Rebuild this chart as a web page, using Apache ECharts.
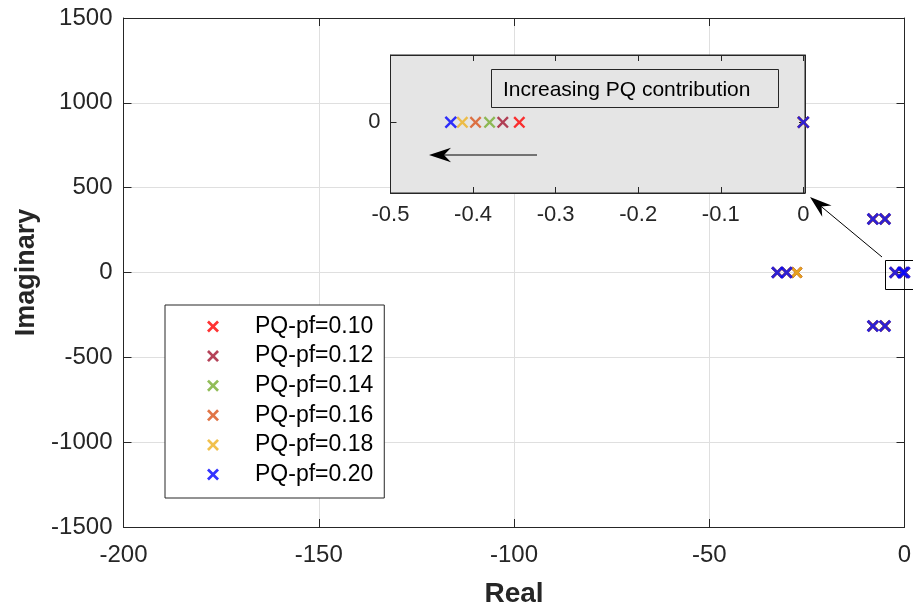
<!DOCTYPE html>
<html>
<head>
<meta charset="utf-8">
<script src="https://cdn.jsdelivr.net/npm/echarts@6/dist/echarts.min.js"></script>
<style>
html,body{margin:0;padding:0;background:#fff;}
#chart{width:913px;height:605px;}
</style>
</head>
<body>
<div id="chart"></div>
<script>
// ---------- data ----------
const seriesNames = ['PQ-pf=0.10', 'PQ-pf=0.12', 'PQ-pf=0.14', 'PQ-pf=0.16', 'PQ-pf=0.18', 'PQ-pf=0.20'];
// pole locations [real, imaginary]
const polesPf010 = [[-32.6, 0], [-30.2, 0], [-27.6, 0], [-8.1, 315], [-8.1, -315], [-5.0, 315], [-5.0, -315], [-2.43, 0], [-0.344, 0], [0, 0]];
const polesPf012 = [[-32.6, 0], [-30.2, 0], [-27.6, 0], [-8.1, 315], [-8.1, -315], [-5.0, 315], [-5.0, -315], [-2.43, 0], [-0.364, 0], [0, 0]];
const polesPf014 = [[-32.6, 0], [-30.2, 0], [-27.6, 0], [-8.1, 315], [-8.1, -315], [-5.0, 315], [-5.0, -315], [-2.43, 0], [-0.380, 0], [0, 0]];
const polesPf016 = [[-32.6, 0], [-30.2, 0], [-27.6, 0], [-8.1, 315], [-8.1, -315], [-5.0, 315], [-5.0, -315], [-2.43, 0], [-0.397, 0], [0, 0]];
const polesPf018 = [[-32.6, 0], [-30.2, 0], [-27.6, 0], [-8.1, 315], [-8.1, -315], [-5.0, 315], [-5.0, -315], [-2.43, 0], [-0.413, 0], [0, 0]];
const polesPf020 = [[-32.6, 0], [-30.2, 0], [-8.1, 315], [-8.1, -315], [-5.0, 315], [-5.0, -315], [-2.43, 0], [-0.427, 0], [0, 0]];
const seriesPoles = [polesPf010, polesPf012, polesPf014, polesPf016, polesPf018, polesPf020];

const mainXTicks = [-200, -150, -100, -50, 0];
const mainYTicks = [-1500, -1000, -500, 0, 500, 1000, 1500];
const insetXTicks = [-0.5, -0.4, -0.3, -0.2, -0.1, 0];
const insetYTicks = [0];

const annotationText = 'Increasing PQ contribution';
const xAxisTitle = 'Real';
const yAxisTitle = 'Imaginary';

// ---------- styles ----------
const colors = ['#ff0000', '#a2142f', '#77ac30', '#d95319', '#edb120', '#0000ff'];
const FONT = '"Liberation Sans", Arial, Helvetica, sans-serif';
const AX = '#262626';
const XMARK_BOLD = 'path://M0,1.6L1.6,0L5,3.4L8.4,0L10,1.6L6.6,5L10,8.4L8.4,10L5,6.6L1.6,10L0,8.4L3.4,5Z';
const XMARK = 'path://M0,1.4L1.4,0L5,3.6L8.6,0L10,1.4L6.4,5L10,8.6L8.6,10L5,6.4L1.4,10L0,8.6L3.6,5Z';

const main = {left: 123.5, right: 904.5, top: 18, bottom: 527};
const inset = {left: 390.5, right: 805, top: 55, bottom: 193};

const chart = echarts.init(document.getElementById('chart'), null, {renderer: 'canvas'});

function fmtTick(list, v) {
  for (const t of list) if (Math.abs(t - v) < 1e-9) return String(t);
  return '';
}

const series = [];
seriesNames.forEach((name, i) => {
  const last = i === seriesNames.length - 1;
  series.push({
    type: 'scatter', name: name, xAxisIndex: 0, yAxisIndex: 0,
    data: seriesPoles[i], symbol: XMARK_BOLD, symbolSize: last ? 12.5 : 11.5,
    itemStyle: {color: colors[i]}, z: 2, silent: true
  });
  series.push({
    type: 'scatter', name: name, xAxisIndex: 2, yAxisIndex: 2,
    data: seriesPoles[i], symbol: XMARK, symbolSize: last ? 12.5 : 12, clip: true,
    itemStyle: {color: colors[i]}, z: 8, silent: true
  });
});

// arrow helpers (annotation geometry)
function arrowHead(tx, ty, fx, fy, len, half, notch) {
  const dx = fx - tx, dy = fy - ty, L = Math.hypot(dx, dy);
  const ux = dx / L, uy = dy / L, px = -uy, py = ux;
  return [[tx, ty],
          [tx + ux * len + px * half, ty + uy * len + py * half],
          [tx + ux * notch, ty + uy * notch],
          [tx + ux * len - px * half, ty + uy * len - py * half]];
}
const arrow1 = {fx: 537, fy: 155, tx: 429, ty: 155};
const arrow2 = {fx: 882, fy: 257, tx: 810, ty: 197};

const option = {
  animation: false,
  backgroundColor: '#ffffff',
  textStyle: {fontFamily: FONT},
  grid: [
    {left: main.left, top: main.top, width: main.right - main.left, height: main.bottom - main.top,
     containLabel: false, outerBoundsMode: 'none', show: false},
    {left: inset.left, top: inset.top, width: inset.right - inset.left, height: inset.bottom - inset.top,
     containLabel: false, outerBoundsMode: 'none',
     show: true, backgroundColor: '#e5e5e5', borderColor: AX, borderWidth: 1, z: 5}
  ],
  xAxis: [
    {gridIndex: 0, type: 'value', min: -200, max: 0, interval: 50, position: 'bottom',
     name: xAxisTitle, nameLocation: 'middle', nameGap: 53,
     nameTextStyle: {fontSize: 28, fontWeight: 'bold', color: AX, fontFamily: FONT},
     axisLine: {show: true, onZero: false, lineStyle: {color: AX, width: 1}},
     axisTick: {show: true, inside: true, length: 8, lineStyle: {color: AX}},
     axisLabel: {fontSize: 24, color: AX, margin: 16, fontFamily: FONT, formatter: v => fmtTick(mainXTicks, v)},
     splitLine: {show: true, lineStyle: {color: '#dfdfdf', width: 1}}},
    {gridIndex: 0, type: 'value', min: -200, max: 0, interval: 50, position: 'top',
     axisLine: {show: true, onZero: false, lineStyle: {color: AX, width: 1}},
     axisTick: {show: true, inside: true, length: 8, lineStyle: {color: AX}},
     axisLabel: {show: false}, splitLine: {show: false}},
    {gridIndex: 1, type: 'value', min: -0.5, max: 0.002, interval: 0.1, position: 'bottom', z: 6,
     axisLine: {show: true, onZero: false, lineStyle: {color: AX, width: 1}},
     axisTick: {show: true, inside: true, length: 6, lineStyle: {color: AX}},
     axisLabel: {fontSize: 22, color: AX, margin: 11, fontFamily: FONT, showMaxLabel: false, formatter: v => fmtTick(insetXTicks, v)},
     splitLine: {show: false}},
    {gridIndex: 1, type: 'value', min: -0.5, max: 0.002, interval: 0.1, position: 'top', z: 6,
     axisLine: {show: true, onZero: false, lineStyle: {color: AX, width: 1}},
     axisTick: {show: true, inside: true, length: 6, lineStyle: {color: AX}},
     axisLabel: {show: false}, splitLine: {show: false}}
  ],
  yAxis: [
    {gridIndex: 0, type: 'value', min: -1500, max: 1500, interval: 500, position: 'left',
     name: yAxisTitle, nameLocation: 'middle', nameGap: 80, nameRotate: 90,
     nameTextStyle: {fontSize: 27, fontWeight: 'bold', color: AX, fontFamily: FONT},
     axisLine: {show: true, onZero: false, lineStyle: {color: AX, width: 1}},
     axisTick: {show: true, inside: true, length: 8, lineStyle: {color: AX}},
     axisLabel: {fontSize: 24, color: AX, margin: 11, fontFamily: FONT, formatter: v => fmtTick(mainYTicks, v)},
     splitLine: {show: true, lineStyle: {color: '#dfdfdf', width: 1}}},
    {gridIndex: 0, type: 'value', min: -1500, max: 1500, interval: 500, position: 'right',
     axisLine: {show: true, onZero: false, lineStyle: {color: AX, width: 1}},
     axisTick: {show: true, inside: true, length: 8, lineStyle: {color: AX}},
     axisLabel: {show: false}, splitLine: {show: false}},
    {gridIndex: 1, type: 'value', min: -1.05, max: 1, interval: 1.05, position: 'left', z: 6,
     axisLine: {show: true, onZero: false, lineStyle: {color: AX, width: 1}},
     axisTick: {show: true, inside: true, length: 6, lineStyle: {color: AX}},
     axisLabel: {fontSize: 22, color: AX, margin: 10, fontFamily: FONT, formatter: v => fmtTick(insetYTicks, v)},
     splitLine: {show: false}},
    {gridIndex: 1, type: 'value', min: -1.05, max: 1, interval: 1.05, position: 'right', z: 6,
     axisLine: {show: true, onZero: false, lineStyle: {color: AX, width: 1}},
     axisTick: {show: true, inside: true, length: 6, lineStyle: {color: AX}},
     axisLabel: {show: false}, splitLine: {show: false}}
  ],
  legend: {
    orient: 'vertical', left: 165, top: 305,
    padding: [10, 11, 12, 42], itemWidth: 74, itemHeight: 12, itemGap: 6.6,
    backgroundColor: '#ffffff', borderColor: AX, borderWidth: 1, borderRadius: 0,
    textStyle: {fontSize: 23, color: '#000', fontFamily: FONT, lineHeight: 23},
    data: seriesNames.map(n => ({name: n, icon: XMARK_BOLD})),
    selectedMode: false
  },
  series: series,
  graphic: [
    {type: 'rect', z: 20, silent: true, shape: {x: 491.5, y: 69.5, width: 287, height: 38},
     style: {fill: 'none', stroke: AX, lineWidth: 1}},
    {type: 'text', z: 21, silent: true, x: 503, y: 90,
     style: {text: annotationText, fontSize: 21, fontFamily: FONT, fill: '#000', verticalAlign: 'middle', align: 'left'}},
    {type: 'line', z: 20, silent: true, shape: {x1: arrow1.fx, y1: arrow1.fy, x2: arrow1.tx + 14, y2: arrow1.ty},
     style: {stroke: '#000', lineWidth: 1}},
    {type: 'polygon', z: 20, silent: true, shape: {points: arrowHead(arrow1.tx, arrow1.ty, arrow1.fx, arrow1.fy, 22, 7.3, 15)},
     style: {fill: '#000'}},
    {type: 'line', z: 20, silent: true, shape: {x1: arrow2.fx, y1: arrow2.fy, x2: arrow2.tx + 10, y2: arrow2.ty + 8.5},
     style: {stroke: '#000', lineWidth: 1}},
    {type: 'polygon', z: 20, silent: true, shape: {points: arrowHead(arrow2.tx, arrow2.ty, arrow2.fx, arrow2.fy, 22, 7.3, 15)},
     style: {fill: '#000'}},
    {type: 'rect', z: 20, silent: true, shape: {x: 885.5, y: 260.5, width: 40, height: 29},
     style: {fill: 'none', stroke: '#000', lineWidth: 1}}
  ]
};
chart.setOption(option);
</script>
</body>
</html>
